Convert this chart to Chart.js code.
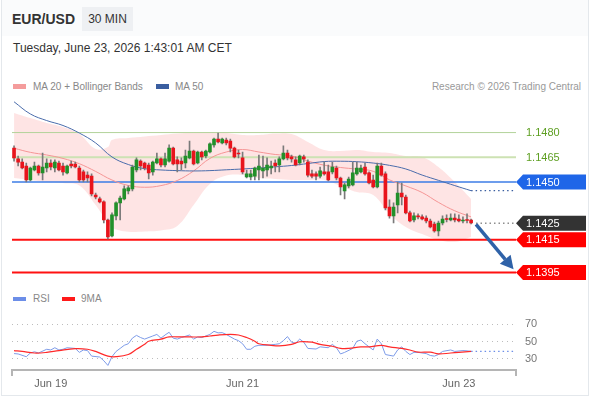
<!DOCTYPE html>
<html><head><meta charset="utf-8">
<script src="https://cdn.jsdelivr.net/npm/chart.js@4.4.1/dist/chart.umd.min.js"></script>
<style>
html,body{margin:0;padding:0;background:#fff;}
body{width:590px;height:400px;position:relative;overflow:hidden;font-family:"Liberation Sans",Arial,sans-serif;}
#card{position:absolute;left:1px;top:0;width:586px;height:395px;border:1px solid #e4e8ec;border-top:none;background:#fff;}
#band{position:absolute;left:2px;top:0;width:586px;height:36px;background:#fafbfc;}
.t{position:absolute;white-space:nowrap;}
.sw{position:absolute;}
canvas{position:absolute;left:0;}
</style></head>
<body>
<div id="card"></div>
<div id="band"></div>
<div class="t" style="left:12px;top:11px;font-size:14px;line-height:16px;font-weight:bold;color:#333">EUR/USD</div>
<div class="t" style="left:82px;top:7px;width:51px;height:24px;line-height:24px;background:#eef0f3;text-align:center;font-size:12px;color:#333">30 MIN</div>
<div class="t" style="left:13px;top:41px;font-size:12px;line-height:15px;color:#333">Tuesday, June 23, 2026 1:43:01 AM CET</div>
<div class="sw" style="left:13px;top:84px;width:13px;height:5px;background:#f49c9c"></div>
<div class="t" style="left:33px;top:80px;font-size:10px;line-height:13px;color:#888">MA 20 + Bollinger Bands</div>
<div class="sw" style="left:156px;top:84px;width:13px;height:5px;background:#3a5ea0"></div>
<div class="t" style="left:175px;top:80px;font-size:10px;line-height:13px;color:#888">MA 50</div>
<div class="t" style="right:9px;top:80px;font-size:10px;line-height:13px;color:#999">Research © 2026 Trading Central</div>
<div class="sw" style="left:13px;top:297px;width:13px;height:4px;background:#6c8ee8"></div>
<div class="t" style="left:33px;top:293px;font-size:10px;line-height:12px;color:#888">RSI</div>
<div class="sw" style="left:62px;top:297px;width:13px;height:4px;background:#ff1a1a"></div>
<div class="t" style="left:81px;top:293px;font-size:10px;line-height:12px;color:#888">9MA</div>
<canvas id="cMain" width="590" height="210" style="top:80px"></canvas>
<canvas id="cRsi" width="590" height="100" style="top:300px"></canvas>
<script>
// ---------- DATA ----------
const open = [1.14706,1.14640,1.14621,1.14597,1.14512,1.14573,1.14597,1.14555,1.14585,1.14615,
1.14585,1.14615,1.14597,1.14555,1.14609,1.14609,1.14585,1.14561,1.14542,1.14536,
1.14421,1.14397,1.14379,1.14269,1.14172,1.14294,1.14373,1.14397,1.14445,1.14458,
1.14573,1.14627,1.14615,1.14603,1.14561,1.14615,1.14640,1.14603,1.14627,1.14706,
1.14634,1.14627,1.14615,1.14646,1.14688,1.14615,1.14682,1.14658,1.14682,1.14725,
1.14761,1.14737,1.14755,1.14749,1.14706,1.14676,1.14646,1.14530,1.14530,1.14536,
1.14573,1.14567,1.14573,1.14585,1.14615,1.14603,1.14640,1.14676,1.14652,1.14634,
1.14615,1.14652,1.14621,1.14549,1.14549,1.14536,1.14561,1.14561,1.14561,1.14585,
1.14524,1.14445,1.14476,1.14482,1.14549,1.14561,1.14591,1.14555,1.14512,1.14470,
1.14597,1.14549,1.14348,1.14294,1.14360,1.14433,1.14409,1.14312,1.14269,1.14294,
1.14288,1.14281,1.14263,1.14245,1.14203,1.14251,1.14275,1.14269,1.14281,1.14275,
1.14263,1.14269,1.14269];
const high = [1.14719,1.14658,1.14640,1.14615,1.14591,1.14621,1.14603,1.14676,1.14640,1.14634,
1.14634,1.14627,1.14615,1.14603,1.14627,1.14621,1.14597,1.14573,1.14561,1.14549,
1.14433,1.14409,1.14385,1.14275,1.14312,1.14379,1.14415,1.14476,1.14476,1.14603,
1.14646,1.14634,1.14621,1.14615,1.14627,1.14676,1.14646,1.14676,1.14725,1.14712,
1.14652,1.14646,1.14694,1.14749,1.14694,1.14688,1.14688,1.14694,1.14737,1.14767,
1.14797,1.14767,1.14767,1.14761,1.14712,1.14694,1.14682,1.14573,1.14573,1.14591,
1.14664,1.14658,1.14646,1.14627,1.14634,1.14652,1.14719,1.14694,1.14664,1.14652,
1.14664,1.14664,1.14634,1.14573,1.14561,1.14591,1.14621,1.14603,1.14621,1.14597,
1.14530,1.14494,1.14530,1.14621,1.14621,1.14603,1.14615,1.14561,1.14542,1.14615,
1.14615,1.14561,1.14391,1.14373,1.14500,1.14494,1.14421,1.14324,1.14312,1.14306,
1.14300,1.14294,1.14275,1.14257,1.14263,1.14294,1.14300,1.14306,1.14306,1.14300,
1.14288,1.14306,1.14275];
const low = [1.14627,1.14597,1.14579,1.14500,1.14506,1.14567,1.14542,1.14512,1.14561,1.14573,
1.14561,1.14567,1.14542,1.14549,1.14585,1.14585,1.14500,1.14500,1.14500,1.14415,
1.14397,1.14373,1.14251,1.14154,1.14166,1.14269,1.14269,1.14391,1.14427,1.14445,
1.14561,1.14573,1.14573,1.14518,1.14542,1.14609,1.14591,1.14591,1.14621,1.14603,
1.14561,1.14573,1.14585,1.14640,1.14603,1.14609,1.14634,1.14646,1.14676,1.14712,
1.14737,1.14731,1.14725,1.14682,1.14646,1.14646,1.14549,1.14524,1.14512,1.14512,
1.14512,1.14524,1.14536,1.14549,1.14561,1.14561,1.14634,1.14634,1.14621,1.14597,
1.14603,1.14621,1.14530,1.14524,1.14512,1.14524,1.14542,1.14506,1.14549,1.14512,
1.14421,1.14397,1.14464,1.14476,1.14542,1.14555,1.14542,1.14488,1.14464,1.14464,
1.14536,1.14330,1.14281,1.14251,1.14312,1.14360,1.14306,1.14257,1.14257,1.14275,
1.14269,1.14251,1.14221,1.14196,1.14172,1.14239,1.14257,1.14263,1.14257,1.14257,
1.14251,1.14251,1.14245];
const close = [1.14646,1.14621,1.14585,1.14512,1.14585,1.14597,1.14555,1.14591,1.14615,1.14591,
1.14621,1.14573,1.14561,1.14597,1.14597,1.14591,1.14512,1.14512,1.14524,1.14427,
1.14409,1.14379,1.14269,1.14166,1.14300,1.14373,1.14403,1.14458,1.14464,1.14591,
1.14634,1.14597,1.14585,1.14555,1.14621,1.14640,1.14603,1.14640,1.14706,1.14609,
1.14609,1.14609,1.14658,1.14688,1.14609,1.14682,1.14652,1.14688,1.14731,1.14761,
1.14743,1.14761,1.14737,1.14706,1.14652,1.14670,1.14561,1.14549,1.14549,1.14585,
1.14597,1.14585,1.14603,1.14597,1.14597,1.14640,1.14676,1.14646,1.14640,1.14603,
1.14658,1.14640,1.14542,1.14536,1.14536,1.14567,1.14549,1.14512,1.14591,1.14524,
1.14470,1.14482,1.14518,1.14555,1.14585,1.14585,1.14549,1.14494,1.14470,1.14597,
1.14542,1.14342,1.14294,1.14348,1.14433,1.14409,1.14312,1.14263,1.14294,1.14288,
1.14275,1.14263,1.14227,1.14203,1.14251,1.14275,1.14272,1.14281,1.14269,1.14263,
1.14269,1.14266,1.14251];

// indicator values read at these candle indices
const maIdx = [0,4,8,12,16,20,24,28,32,36,40,44,48,52,56,60,64,68,72,76,80,84,88,92,96,100,104,108,112];
const ma50 = [1.14987,1.14913,1.14873,1.14843,1.14797,1.14737,1.14652,1.14606,1.14581,1.14573,1.14569,1.14567,1.14569,1.14574,1.14579,1.14585,1.14592,1.14600,1.14612,1.14624,1.14626,1.14623,1.14615,1.14601,1.14579,1.14542,1.14510,1.14478,1.14447];
const ma20 = [1.14705,1.14680,1.14664,1.14643,1.14611,1.14564,1.14512,1.14479,1.14468,1.14478,1.14509,1.14567,1.14643,1.14682,1.14697,1.14682,1.14667,1.14658,1.14627,1.14602,1.14588,1.14578,1.14565,1.14513,1.14476,1.14436,1.14376,1.14325,1.14288];
const bbIdx = [0,4,8,12,16,20,23,24,28,32,36,40,44,48,52,56,60,64,68,72,76,80,84,88,92,96,100,104,108,112];
const bbUpper = [1.14919,1.14888,1.14858,1.14834,1.14791,1.14700,1.14712,1.14755,1.14767,1.14776,1.14785,1.14794,1.14799,1.14804,1.14797,1.14785,1.14785,1.14794,1.14791,1.14743,1.14694,1.14688,1.14694,1.14682,1.14676,1.14658,1.14652,1.14591,1.14500,1.14397];
const bbLower = [1.14524,1.14512,1.14500,1.14494,1.14479,1.14360,1.14250,1.14221,1.14198,1.14200,1.14206,1.14233,1.14360,1.14488,1.14539,1.14542,1.14524,1.14518,1.14512,1.14512,1.14512,1.14476,1.14439,1.14421,1.14306,1.14227,1.14184,1.14148,1.14136,1.14166];

const rsiIdx = [0,1,3,4,5,6,8,9,10,11,12,13,15,16,17,18,19,21,22,23,24,25,26,27,28,29,30,31,32,34,35,36,37,38,39,40,41,43,44,45,46,48,49,50,51,52,54,55,56,57,58,59,60,62,64,65,66,67,68,69,70,71,72,74,75,77,78,79,80,81,83,84,85,86,88,89,90,91,93,94,95,96,97,98,99,101,102,103,104,105,107,108,110,111,112];
const rsiVal = [36.0,35.6,32.4,36.7,38.1,36.7,41.0,40.2,42.8,40.2,41.0,42.8,42.0,37.4,40.2,39.5,33.1,32.0,27.7,22.3,32.4,38.5,42.0,45.6,47.4,53.9,57.1,54.6,52.8,56.4,58.2,53.9,57.5,60.7,53.9,52.8,54.6,57.5,52.8,55.3,54.6,58.2,61.8,60.0,60.3,58.2,52.8,51.0,47.4,41.0,41.0,44.5,45.6,45.6,46.7,47.4,51.0,55.7,49.2,48.1,52.8,49.2,42.0,41.3,43.8,42.8,46.7,42.8,35.6,37.4,42.0,50.3,51.7,47.4,40.2,52.8,47.4,34.9,33.1,40.2,43.8,38.5,34.9,37.4,37.4,36.0,33.8,33.1,34.9,38.5,40.2,38.5,39.5,39.2,38.5];
const ma9Idx = [0,2,5,8,11,15,18,20,23,25,28,30,32,33,36,38,41,43,46,48,50,53,55,57,59,60,63,65,68,70,73,75,78,80,82,85,87,90,92,95,97,99,102,104,107,109,112];
const ma9Val = [39.5,38.5,36.7,37.4,39.5,41.7,41.0,38.5,33.1,32.4,34.9,41.0,46.7,50.3,52.8,55.3,55.3,55.3,55.3,56.4,57.5,58.2,57.5,54.6,50.3,47.4,45.6,44.9,46.7,49.7,49.2,46.7,44.5,42.0,42.0,43.8,43.8,45.6,43.8,42.0,40.2,37.7,37.7,35.6,36.7,37.4,38.5];

const levels = [1.1480, 1.1465, 1.1450, 1.1425, 1.1415, 1.1395];
const lastPrice = 1.1425;
const arrowPath = [[113.2, 1.14243], [122.4, 1.13970]];
const tickPos = [9, 56, 109];
const tickText = ['Jun 19', 'Jun 21', 'Jun 23'];
const rsiTicks = [30, 50, 70];

// ---------- STYLE ----------
const X_MIN = -0.5, X_MAX = 123, LAST = 112, EXT_FROM = 113.2;
const levelStyle = [
  {line:'#b3d39a', w:1, full:true, fg:'#5e9f22', bg:null},
  {line:'#cde2b3', w:2, full:true, fg:'#5e9f22', bg:null},
  {line:'#3d7ce6', w:1.5, full:true, fg:'#fff', bg:'#1f66e8'},
  {line:'#555', w:1, full:false, fg:'#fff', bg:'#333333'},
  {line:'#ff1111', w:2, full:true, fg:'#fff', bg:'#ff0000'},
  {line:'#ff1111', w:2, full:true, fg:'#fff', bg:'#ff0000'}
];
Chart.defaults.font.family = '"Liberation Sans", Arial, sans-serif';

const pts = (idx, vals) => idx.map((x, k) => ({x: x, y: vals[k]}));
const GREEN = '#22902a', RED = '#e8141c';

const datasets = [];
datasets.push({type:'line', data:pts(bbIdx, bbUpper), borderWidth:0, pointRadius:0, tension:0.4, fill:'+1', backgroundColor:'rgba(252,190,190,0.42)', order:20});
datasets.push({type:'line', data:pts(bbIdx, bbLower), borderWidth:0, pointRadius:0, tension:0.4, fill:false, order:21});
levels.forEach((v, k) => {
  const s = levelStyle[k];
  if (s.full) {
    datasets.push({type:'line', data:[{x:X_MIN,y:v},{x:X_MAX,y:v}], borderColor:s.line, borderWidth:s.w, pointRadius:0, fill:false, order:15});
  }
});
datasets.push({type:'line', data:[{x:EXT_FROM,y:lastPrice},{x:X_MAX,y:lastPrice}], borderColor:'#555', borderWidth:1, borderDash:[1.5,3], pointRadius:0, fill:false, order:9});
datasets.push({type:'line', data:pts(maIdx, ma20), borderColor:'#f59595', borderWidth:1, pointRadius:0, tension:0.4, fill:false, order:10});
datasets.push({type:'line', data:pts(maIdx, ma50), borderColor:'#4a6cab', borderWidth:1, pointRadius:0, tension:0.4, fill:false, order:9});
datasets.push({type:'line', data:[{x:LAST,y:ma50[ma50.length-1]},{x:X_MAX,y:ma50[ma50.length-1]}], borderColor:'#3a5ea0', borderWidth:1.2, borderDash:[1.5,3], pointRadius:0, fill:false, order:9});
datasets.push({type:'bar', data:high.map((h,i)=>({x:i, y:[low[i], h]})), backgroundColor:'#7a7a7a', barThickness:1, grouped:false, order:3});
datasets.push({type:'bar', data:open.map((o,i)=>({x:i, y:[o, close[i]]})), backgroundColor:open.map((o,i)=> close[i] > o ? GREEN : RED), barThickness:3, minBarLength:1, grouped:false, order:2});

const tagPlugin = {
  id:'tags',
  afterDraw(chart){
    const ctx = chart.ctx, ys = chart.scales.y, xl = chart.chartArea.right;
    levels.forEach((v, k) => {
      const s = levelStyle[k];
      const y = ys.getPixelForValue(v);
      ctx.save();
      if (s.bg) {
        ctx.fillStyle = s.bg;
        ctx.beginPath();
        ctx.moveTo(xl, y); ctx.lineTo(xl+7, y-7.5); ctx.lineTo(xl+70, y-7.5);
        ctx.lineTo(xl+70, y+7.5); ctx.lineTo(xl+7, y+7.5); ctx.closePath(); ctx.fill();
      }
      ctx.fillStyle = s.fg;
      ctx.font = '11px "Liberation Sans", Arial, sans-serif';
      ctx.textBaseline = 'middle'; ctx.textAlign = 'left';
      ctx.fillText(v.toFixed(4), xl+10, y+0.5);
      ctx.restore();
    });
  }
};
const arrowPlugin = {
  id:'arrow',
  afterDatasetsDraw(chart){
    const ctx = chart.ctx, xs = chart.scales.x, ys = chart.scales.y;
    const x0 = xs.getPixelForValue(arrowPath[0][0]), y0 = ys.getPixelForValue(arrowPath[0][1]);
    const x1 = xs.getPixelForValue(arrowPath[1][0]), y1 = ys.getPixelForValue(arrowPath[1][1]);
    const a = Math.atan2(y1-y0, x1-x0), hl = 13, hw = 7;
    const bx = x1 - hl*Math.cos(a), by = y1 - hl*Math.sin(a);
    ctx.save();
    ctx.strokeStyle = '#2f62a8'; ctx.fillStyle = '#2f62a8'; ctx.lineWidth = 3.5; ctx.lineCap = 'butt';
    ctx.beginPath(); ctx.moveTo(x0, y0); ctx.lineTo(bx, by); ctx.stroke();
    ctx.beginPath(); ctx.moveTo(x1, y1);
    ctx.lineTo(bx + hw*Math.sin(a), by - hw*Math.cos(a));
    ctx.lineTo(bx - hw*Math.sin(a), by + hw*Math.cos(a));
    ctx.closePath(); ctx.fill();
    ctx.restore();
  }
};

new Chart(document.getElementById('cMain'), {
  type:'bar',
  data:{datasets},
  options:{
    responsive:false, animation:false, devicePixelRatio:1, events:[],
    layout:{padding:{left:12, right:74, top:11.4, bottom:9.2}},
    plugins:{legend:{display:false}, tooltip:{enabled:false}},
    scales:{
      x:{type:'linear', min:X_MIN, max:X_MAX, display:false, offset:false},
      y:{type:'linear', min:1.1390, max:1.1505, display:false}
    }
  },
  plugins:[tagPlugin, arrowPlugin]
});

const endTicks = {
  id:'endTicks',
  afterDraw(chart){
    const ctx = chart.ctx, ca = chart.chartArea;
    ctx.save(); ctx.strokeStyle = '#b5b5b5'; ctx.lineWidth = 2;
    [ca.left, ca.right].forEach(x => { ctx.beginPath(); ctx.moveTo(x, ca.bottom); ctx.lineTo(x, ca.bottom+6); ctx.stroke(); });
    ctx.restore();
  }
};

new Chart(document.getElementById('cRsi'), {
  type:'line',
  data:{datasets:[
    {data:pts(rsiIdx, rsiVal), borderColor:'#7d9be8', borderWidth:1, pointRadius:0, tension:0, fill:false, order:2},
    {data:[{x:LAST,y:rsiVal[rsiVal.length-1]},{x:X_MAX,y:rsiVal[rsiVal.length-1]}], borderColor:'#6c8ee8', borderWidth:1.2, borderDash:[1.5,3], pointRadius:0, fill:false, order:2},
    {data:pts(ma9Idx, ma9Val), borderColor:'#ff2a2a', borderWidth:1.2, pointRadius:0, tension:0.4, fill:false, order:1}
  ]},
  options:{
    responsive:false, animation:false, devicePixelRatio:1, events:[],
    layout:{padding:{left:12, right:0, top:11.4, bottom:0}},
    plugins:{legend:{display:false}, tooltip:{enabled:false}},
    scales:{
      x:{type:'linear', min:X_MIN, max:X_MAX, position:'bottom', offset:false,
        grid:{display:false, drawTicks:false},
        border:{display:true, color:'#b5b5b5', width:2},
        afterBuildTicks:(s)=>{ s.ticks = tickPos.map(v=>({value:v})); },
        afterFit:(s)=>{ s.height = 30; },
        ticks:{autoSkip:false, maxRotation:0, padding:7, color:'#666', font:{size:11},
          callback:(v)=>{ const k = tickPos.indexOf(v); return k >= 0 ? tickText[k] : ''; }}
      },
      y:{type:'linear', min:17, max:80, position:'right',
        grid:{color:'#bdbdbd', drawTicks:false, lineWidth:1},
        border:{display:false, dash:[1,4]},
        afterBuildTicks:(s)=>{ s.ticks = rsiTicks.map(v=>({value:v})); },
        afterFit:(s)=>{ s.width = 74; },
        ticks:{padding:9, color:'#777', font:{size:11}}
      }
    }
  },
  plugins:[endTicks]
});
</script>
</body></html>
